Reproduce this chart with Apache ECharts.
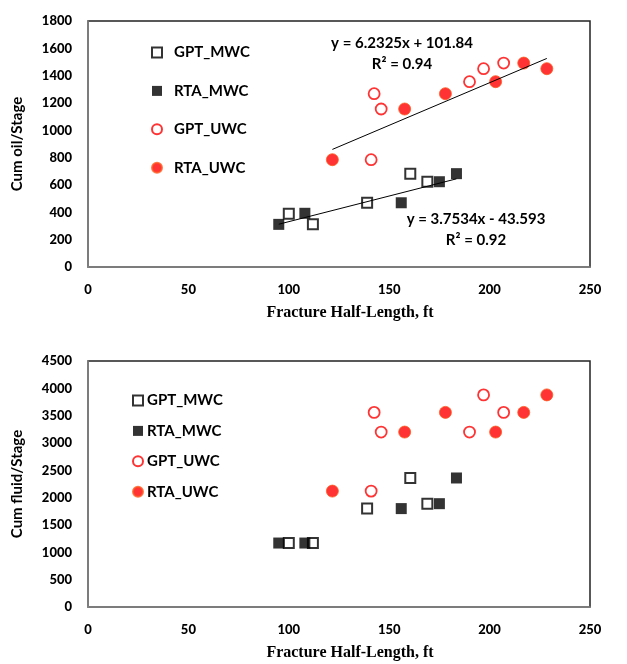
<!DOCTYPE html>
<html>
<head>
<meta charset="utf-8">
<script src="https://cdn.jsdelivr.net/npm/echarts@6/dist/echarts.min.js"></script>
<style>html,body{margin:0;padding:0;background:#fff}#c{width:627px;height:664px}</style>
</head>
<body>
<div id="c"></div>
<script>
// ---- data ----
const seriesNames = ['GPT_MWC', 'RTA_MWC', 'GPT_UWC', 'RTA_UWC'];
const gptMwcX = [100, 112, 139, 160.5, 169];
const gptMwcOil = [390, 312, 470, 683, 624];
const gptMwcFluid = [1170, 1170, 1800, 2360, 1890];
const rtaMwcX = [95, 108, 156, 175, 183.5];
const rtaMwcOil = [312, 393, 470, 624, 683];
const rtaMwcFluid = [1170, 1170, 1800, 1890, 2360];
const gptUwcX = [142.5, 146, 141, 190, 197, 207];
const gptUwcOil = [1268, 1156, 785, 1356, 1451, 1492];
const gptUwcFluid = [3560, 3200, 2120, 3200, 3880, 3560];
const rtaUwcX = [121.7, 157.7, 178, 203, 217, 228.5];
const rtaUwcOil = [785, 1156, 1268, 1356, 1492, 1451];
const rtaUwcFluid = [2120, 3200, 3560, 3200, 3560, 3880];
// trendline coefficients as printed on the chart
const mwcFit = [3.7534, -43.593];
const uwcFit = [6.2325, 101.84];
const mwcFitText = 'y = 3.7534x - 43.593\nR² = 0.92';
const uwcFitText = 'y = 6.2325x + 101.84\nR² = 0.94';
const xTicks = [0, 50, 100, 150, 200, 250];
const oilTicks = [0, 200, 400, 600, 800, 1000, 1200, 1400, 1600, 1800];
const fluidTicks = [0, 500, 1000, 1500, 2000, 2500, 3000, 3500, 4000, 4500];

const zip = (xs, ys) => xs.map((x, i) => [x, ys[i]]);
function fitLine(xsA, xsB, fit) {
  const all = xsA.concat(xsB);
  const lo = Math.min(...all), hi = Math.max(...all);
  return [[lo, fit[0] * lo + fit[1]], [hi, fit[0] * hi + fit[1]]];
}

const F = 'Lato, "Liberation Sans", sans-serif';
const styles = {
  GPT_MWC: {symbol: 'rect', symbolSize: 10, itemStyle: {color: '#fff', borderColor: '#000', borderWidth: 2}},
  RTA_MWC: {symbol: 'rect', symbolSize: 11, itemStyle: {color: '#000', borderColor: '#000', borderWidth: 0}},
  GPT_UWC: {symbol: 'circle', symbolSize: 11, itemStyle: {color: '#fff', borderColor: '#ff0000', borderWidth: 1.8}},
  RTA_UWC: {symbol: 'circle', symbolSize: 12, itemStyle: {color: '#ff0000', borderColor: '#ff5a1f', borderWidth: 1}}
};

function scatter(name, idx, data) {
  return Object.assign({type: 'scatter', name: name, xAxisIndex: idx, yAxisIndex: idx, data: data, z: 3}, styles[name]);
}
function trend(idx, data) {
  return {type: 'line', xAxisIndex: idx, yAxisIndex: idx, data: data, symbol: 'none',
    lineStyle: {color: '#000', width: 1}, silent: true, z: 4};
}

function xAxis(gi) {
  return {type: 'value', gridIndex: gi, min: xTicks[0], max: xTicks[xTicks.length - 1], interval: xTicks[1] - xTicks[0],
    name: 'Fracture Half-Length, ft', nameLocation: 'middle', nameGap: 38,
    nameTextStyle: {fontFamily: '"Liberation Serif", serif', fontWeight: 'bold', fontSize: 16, color: '#000', padding: [0, 0, 0, 22]},
    axisLine: {show: true, lineStyle: {color: '#888', width: 1.5}}, axisTick: {show: false}, splitLine: {show: false},
    axisLabel: {fontFamily: F, fontWeight: 900, fontSize: 13, color: '#000', margin: 16, formatter: v => String(v)}};
}
function yAxis(gi, name, ticks) {
  return {type: 'value', gridIndex: gi, min: ticks[0], max: ticks[ticks.length - 1], interval: ticks[1] - ticks[0],
    name: name, nameLocation: 'middle', nameGap: 63,
    nameTextStyle: {fontFamily: F, fontWeight: 'bold', fontSize: 15, color: '#000'},
    axisLine: {show: true, lineStyle: {color: '#888', width: 1.5}}, axisTick: {show: false}, splitLine: {show: false},
    axisLabel: {fontFamily: F, fontWeight: 900, fontSize: 13, color: '#000', margin: 16, formatter: v => String(v)}};
}

const legendText = {fontFamily: F, fontWeight: 'bold', fontSize: 15, color: '#000'};

const option = {
  animation: false,
  backgroundColor: '#fff',
  grid: [
    {left: 88, top: 21, width: 502, height: 246, show: true, borderColor: '#222', borderWidth: 1.5},
    {left: 88, top: 361, width: 502, height: 246, show: true, borderColor: '#222', borderWidth: 1.5}
  ],
  xAxis: [xAxis(0), xAxis(1)],
  yAxis: [yAxis(0, 'Cum oil/Stage', oilTicks), yAxis(1, 'Cum fluid/Stage', fluidTicks)],
  legend: [
    {data: seriesNames, orient: 'vertical', left: 151, top: 45, padding: 0, itemGap: 23.4, itemWidth: 10, itemHeight: 10,
     textStyle: Object.assign({padding: [0, 0, 0, 7]}, legendText)},
    {data: seriesNames, orient: 'vertical', left: 132, top: 393, padding: 0, itemGap: 15.4, itemWidth: 10, itemHeight: 10,
     textStyle: Object.assign({padding: [0, 0, 0, -1]}, legendText)}
  ],
  graphic: [
    {type: 'text', style: {text: uwcFitText, x: 0, y: 0, textAlign: 'center', font: 'bold 15px ' + F, fill: '#000', lineHeight: 21}, position: [402, 33]},
    {type: 'text', style: {text: mwcFitText, x: 0, y: 0, textAlign: 'center', font: 'bold 15px ' + F, fill: '#000', lineHeight: 21}, position: [476, 209]}
  ],
  series: [
    trend(0, fitLine(gptMwcX, rtaMwcX, mwcFit)),
    trend(0, fitLine(gptUwcX, rtaUwcX, uwcFit)),
    scatter('GPT_MWC', 0, zip(gptMwcX, gptMwcOil)),
    scatter('RTA_MWC', 0, zip(rtaMwcX, rtaMwcOil)),
    scatter('GPT_UWC', 0, zip(gptUwcX, gptUwcOil)),
    scatter('RTA_UWC', 0, zip(rtaUwcX, rtaUwcOil)),
    scatter('GPT_MWC', 1, zip(gptMwcX, gptMwcFluid)),
    scatter('RTA_MWC', 1, zip(rtaMwcX, rtaMwcFluid)),
    scatter('GPT_UWC', 1, zip(gptUwcX, gptUwcFluid)),
    scatter('RTA_UWC', 1, zip(rtaUwcX, rtaUwcFluid))
  ]
};
const chart = echarts.init(document.getElementById('c'), null, {renderer: 'canvas'});
chart.setOption(option);
</script>
</body>
</html>
